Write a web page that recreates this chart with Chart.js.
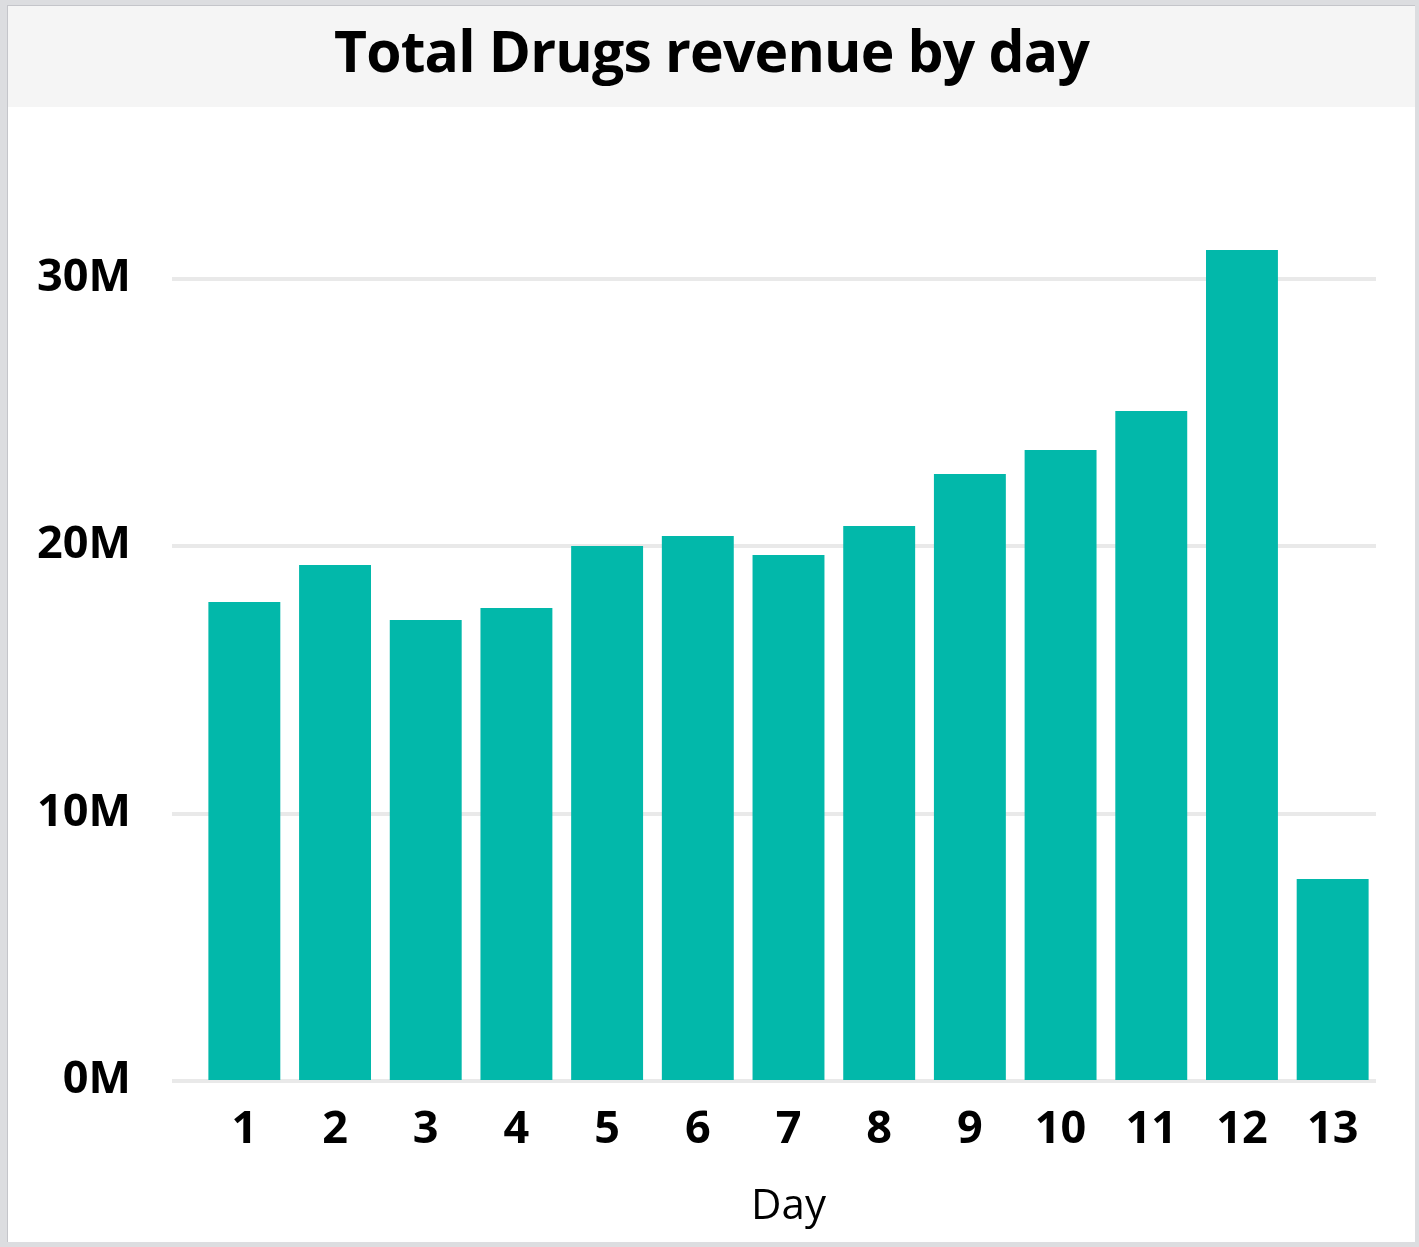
<!DOCTYPE html>
<html>
<head>
<meta charset="utf-8">
<script src="https://cdn.jsdelivr.net/npm/chart.js@4.4.1/dist/chart.umd.min.js"></script>
<style>
	html, body { margin: 0; padding: 0; background: #dcdde0; }
	#panel { position: absolute; left: 7px; top: 5px; width: 1408px; height: 1237px; background: #fff; border-left: 1px solid #c4c5ca; border-top: 1px solid #c4c5ca; box-sizing: border-box; }
	#title { height: 101px; background: #f5f5f5; text-align: center; font: bold 57px "Open Sans", sans-serif; line-height: 88px; color: #000; letter-spacing: -0.8px; }
	#wrap { position: relative; width: 1407px; height: 1135px; }
</style>
</head>
<body>
<div id="panel">
	<div id="title">Total Drugs revenue by day</div>
	<div id="wrap"><canvas id="chart"></canvas></div>
</div>
<script>
// Revenue per day (in millions)
const days = ['1','2','3','4','5','6','7','8','9','10','11','12','13'];
const revenue = [17.88, 19.27, 17.21, 17.66, 19.98, 20.35, 19.64, 20.73, 22.67, 23.57, 25.03, 31.05, 7.52];
const yTicks = [0, 10, 20, 30];

// gridlines reach a bit left of the plot, like the original
const gridPlugin = {
	id: 'gridLines',
	beforeDatasetsDraw(chart) {
		const { ctx, chartArea, scales } = chart;
		ctx.save();
		ctx.strokeStyle = '#e9e9e9';
		ctx.lineWidth = 4;
		yTicks.forEach(v => {
			const y = Math.round(scales.y.getPixelForValue(v)) + 1;
			ctx.beginPath();
			ctx.moveTo(chartArea.left - 27, y);
			ctx.lineTo(chartArea.right - 2, y);
			ctx.stroke();
		});
		ctx.restore();
	}
};

new Chart(document.getElementById('chart'), {
	type: 'bar',
	data: {
		labels: days,
		datasets: [{ label: 'Revenue', data: revenue, backgroundColor: '#02b8aa', categoryPercentage: 1, barPercentage: 0.793 }]
	},
	options: {
		responsive: true,
		maintainAspectRatio: false,
		animation: false,
		layout: { padding: { top: 0, right: 37, bottom: 10, left: 0 } },
		plugins: { legend: { display: false }, tooltip: { enabled: false } },
		scales: {
			x: {
				grid: { display: false, drawTicks: false },
				border: { display: false },
				ticks: { color: '#000', font: { family: 'Open Sans', size: 45, weight: 'bold' }, padding: 23, maxRotation: 0 },
				title: { display: true, text: 'Day', color: '#000', font: { family: 'Open Sans', size: 42 }, padding: { top: 6, bottom: 0 } },
				afterFit: s => { s.height = 152; }
			},
			y: {
				min: 0, max: 32.85,
				grid: { display: false, drawTicks: false },
				border: { display: false },
				ticks: { stepSize: 10, color: '#000', padding: 68, font: { family: 'Open Sans', size: 45, weight: 'bold' }, callback: v => v + 'M' },
				afterBuildTicks: s => { s.ticks = s.ticks.filter(t => yTicks.includes(t.value)); },
				afterFit: s => { s.width = 191; }
			}
		}
	},
	plugins: [gridPlugin]
});
</script>
</body>
</html>
